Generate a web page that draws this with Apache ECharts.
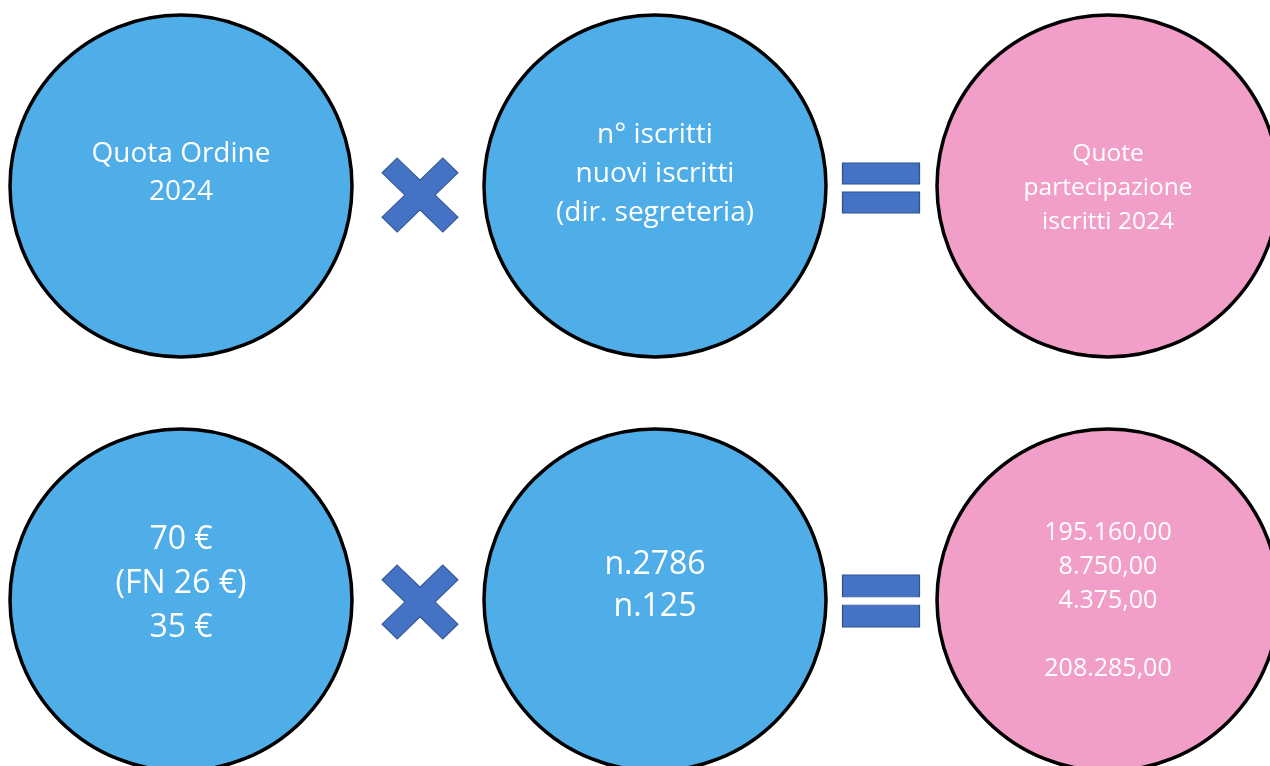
<!DOCTYPE html>
<html>
<head>
<meta charset="utf-8">
<script src="https://cdn.jsdelivr.net/npm/echarts@6/dist/echarts.min.js"></script>
<style>
html,body{margin:0;padding:0;background:#fff;}
#c{width:1270px;height:766px;}
</style>
</head>
<body>
<div id="c"></div>
<script>
// ---- data ----
const headerQuota = ['Quota Ordine', '2024'];
const headerIscritti = ['n° iscritti', 'nuovi iscritti', '(dir. segreteria)'];
const headerRisultato = ['Quote', 'partecipazione', 'iscritti 2024'];
const fees = [70, 26, 35];          // € : quota, (FN), quota ridotta
const counts = [2786, 125];          // n. iscritti, n. nuovi iscritti
const amounts = [195160, 8750, 4375];
const total = 208285;

// ---- helpers ----
function itNum(v) {
  const s = Math.round(v).toString().replace(/\B(?=(\d{3})+(?!\d))/g, '.');
  return s + ',00';
}
const feeLines = [fees[0] + ' €', '(FN ' + fees[1] + ' €)', fees[2] + ' €'];
const countLines = counts.map(c => 'n.' + c);
const amountLines = amounts.map(itNum).concat(['', itNum(total)]);

// ---- layout (pixel domain of hidden axes) ----
const colX = [181, 655, 1108];
const rowY = [186, 600];
const opX = [420, 881];
const opY = [[195, 188], [602, 601]];

const BLUE = '#4FADE8', PINK = '#F19EC9', OPC = '#4472C4', OPB = '#2F528F';
const FONT = 'Open Sans';

function circle(x, y, color, lines, size, lh, dy) {
  return {
    value: [x, y],
    itemStyle: { color: color, opacity: 1, borderColor: '#000', borderWidth: 3.5 },
    label: {
      show: true, position: 'inside', formatter: lines.join('\n'),
      color: '#fff', fontFamily: FONT, fontSize: size, lineHeight: lh,
      offset: [0, dy], align: 'center'
    }
  };
}

const circles = [
  circle(colX[0], rowY[0], BLUE, headerQuota, 28, 38, -13),
  circle(colX[1], rowY[0], BLUE, headerIscritti, 28, 39, -12),
  circle(colX[2], rowY[0], PINK, headerRisultato, 24.5, 34, 2),
  circle(colX[0], rowY[1], BLUE, feeLines, 32, 44, -16),
  circle(colX[1], rowY[1], BLUE, countLines, 32, 42, -14),
  circle(colX[2], rowY[1], PINK, amountLines, 25, 34, 1)
];

const crossPath = 'path://M20,0 L50,30 L80,0 L100,20 L70,50 L100,80 L80,100 L50,70 L20,100 L0,80 L30,50 L0,20 Z';
const equalPath = 'path://M0,0 H77 V21 H0 Z M0,29 H77 V50 H0 Z';

const ops = [
  { value: [opX[0], opY[0][0]], symbol: crossPath, symbolSize: [76, 74] },
  { value: [opX[1], opY[0][1]], symbol: equalPath, symbolSize: [77, 50] },
  { value: [opX[0], opY[1][0]], symbol: crossPath, symbolSize: [76, 74] },
  { value: [opX[1], opY[1][1]], symbol: equalPath, symbolSize: [77, 52] }
];

const chart = echarts.init(document.getElementById('c'), null, { renderer: 'canvas' });
chart.setOption({
  backgroundColor: '#fff',
  animation: false,
  grid: { left: 0, right: 0, top: 0, bottom: 0 },
  xAxis: { type: 'value', min: 0, max: 1270, show: false },
  yAxis: { type: 'value', min: 0, max: 766, inverse: true, show: false },
  series: [
    {
      type: 'scatter', silent: true, clip: false,
      symbol: 'circle', symbolSize: 342,
      data: circles
    },
    {
      type: 'scatter', silent: true, clip: false,
      itemStyle: { color: OPC, opacity: 1, borderColor: OPB, borderWidth: 1 },
      data: ops
    }
  ]
});
</script>
</body>
</html>
